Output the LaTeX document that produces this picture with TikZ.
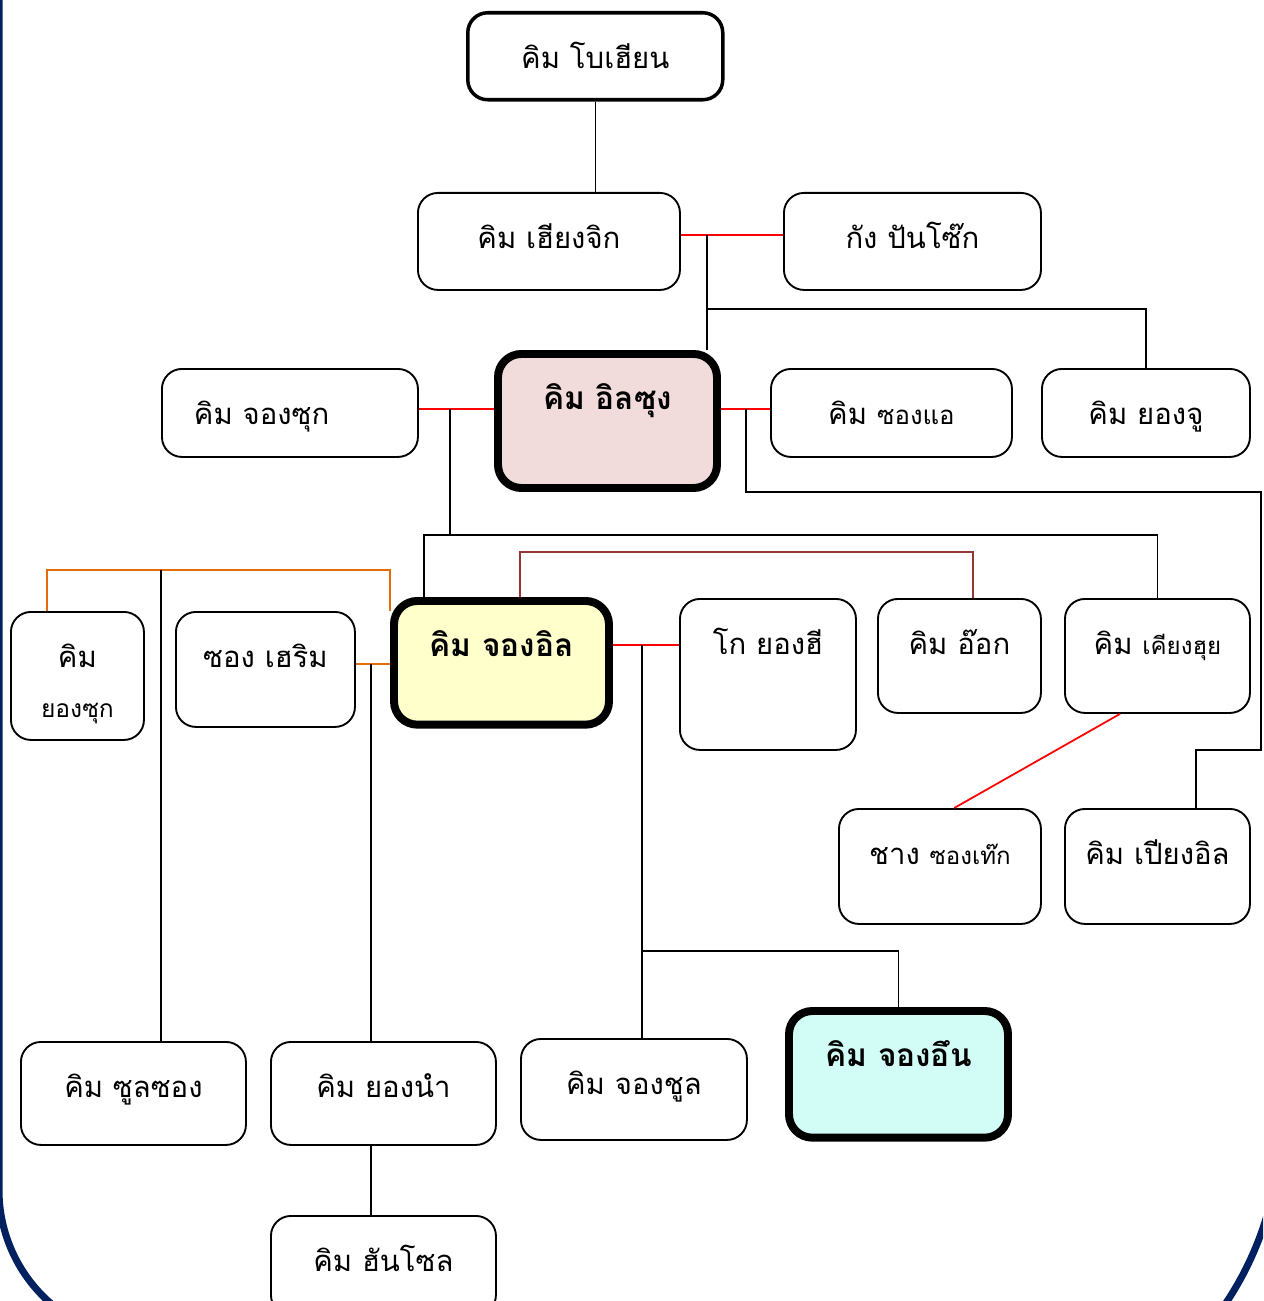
\documentclass[tikz,border=0pt]{standalone}
\usepackage{fontspec}
\newfontfamily\thai[Script=Thai]{Loma}
\usetikzlibrary{calc}

\definecolor{navy}{HTML}{002060}
\definecolor{pinkfill}{HTML}{F2DCDB}
\definecolor{yellowfill}{HTML}{FFFFCC}
\definecolor{cyanfill}{HTML}{D2FCF6}
\definecolor{brownline}{HTML}{953735}
\definecolor{orangeline}{HTML}{E46C0A}

% smaller given name
\newcommand{\sm}[2][20.5]{{\fontsize{#1}{24}\selectfont #2}}

\begin{document}
\begin{tikzpicture}[x=0.03cm, y=-0.03cm,
    person/.style={draw, fill=white, line width=1.6pt, rounded corners=0.6cm, anchor=north west,
        inner ysep=0pt, inner xsep=2pt, text height=1.68cm, align=center,
        font=\thai\fontsize{25}{30}\selectfont},
    main/.style={person, line width=6.8pt, rounded corners=0.7cm,
        font=\thai\bfseries\fontsize{27}{32}\selectfont},
    link/.style={line width=1.3pt},
    redlink/.style={line width=1.5pt, red},
    brownlink/.style={line width=1.5pt, brownline},
    orangelink/.style={line width=1.5pt, orangeline}]

    % === กรอบ ===
    \fill[white] (0,0) rectangle (1263,1301);
    \useasboundingbox (0,0) rectangle (1263,1301);
    \clip (0,0) rectangle (1263,1301);
    \draw[navy, line width=0.21cm] (-1,-10) -- (-1,1190) arc[start angle=180, end angle=125, radius=150];
    \draw[navy, line width=0.21cm] (1280,-10) -- (1280,1125) arc[start angle=0, end angle=42, radius=320];

    % === รุ่นที่ 1-2 ===
    \node[person, line width=3pt, minimum width=7.65cm, text depth=0.93cm] (bohian) at (466,11) {คิม โบเฮียน};
    \node[person, minimum width=7.86cm, text depth=1.23cm] (hiangjik) at (417,192) {คิม เฮียงจิก};
    \node[person, minimum width=7.71cm, text depth=1.23cm] (kang) at (783,192) {กัง ปันโซ๊ก};

    % === รุ่นที่ 3 ===
    \node[person, text width=5.76cm, inner xsep=0.96cm, align=left, text depth=0.96cm] (jongsuk) at (161,368) {คิม จองซุก};
    \node[main, fill=pinkfill, minimum width=6.57cm, text depth=2.34cm] (ilsung) at (494,350) {คิม อิลซุง};
    \node[person, minimum width=7.23cm, text depth=0.96cm] (songae) at (770,368) {คิม \sm[22]{ซองแอ}};
    \node[person, minimum width=6.24cm, text depth=0.96cm] (yongju) at (1041,368) {คิม ยองจู};

    % === รุ่นที่ 4 ===
    \node[person, minimum width=3.99cm, text depth=2.16cm] (yongsuk) at (10,611)
        {\begin{tabular}[t]{@{}c@{}}คิม\\[12pt]\sm[21]{ยองซุก}\end{tabular}};
    \node[person, minimum width=5.37cm, text depth=1.77cm] (songherim) at (175,611) {ซอง เฮริม};
    \node[main, fill=yellowfill, minimum width=6.45cm, text depth=2.03cm] (jongil) at (390,597) {คิม จองอิล};
    \node[person, minimum width=5.28cm, text depth=2.85cm] (kohyonghi) at (679,598) {โก ยองฮี};
    \node[person, minimum width=4.89cm, text depth=1.74cm] (eok) at (877,598) {คิม อ๊อก};
    \node[person, minimum width=5.55cm, text depth=1.74cm] (kiangsui) at (1064,598) {คิม \sm{เคียงฮุย}};
    \node[person, minimum width=6.06cm, text depth=1.77cm] (changsongtaek) at (838,808) {ชาง \sm{ซองเท๊ก}};
    \node[person, minimum width=5.55cm, text depth=1.77cm] (piangil) at (1064,808) {คิม เปียงอิล};

    % === รุ่นที่ 5 ===
    \node[person, minimum width=6.75cm, text depth=1.41cm] (sulsong) at (20,1041) {คิม ซูลซอง};
    \node[person, minimum width=6.75cm, text depth=1.41cm] (yongnam) at (270,1041) {คิม ยองนำ};
    \node[person, minimum width=6.78cm, text depth=1.35cm] (jongsul) at (520,1038) {คิม จองชูล};
    \node[main, fill=cyanfill, minimum width=6.57cm, text depth=2.12cm] (jongeun) at (785,1007) {คิม จองอึน};
    \node[person, minimum width=6.75cm, text depth=1.29cm] (hanson) at (270,1215) {คิม ฮันโซล};

    % จุดหักมุม
    \coordinate (mA) at (707,235);
    \coordinate (mB) at (707,309);
    \coordinate (mC) at (450,409);
    \coordinate (mE) at (424,535);
    \coordinate (mF) at (746,409);
    \coordinate (mG) at (1196,750);
    \coordinate (mR) at (1261,492);
    \coordinate (mH) at (520,552);
    \coordinate (mI) at (973,552);
    \coordinate (mJ) at (47,570);
    \coordinate (mL) at (161,570);
    \coordinate (mM) at (371,664);
    \coordinate (mN) at (642,645);
    \coordinate (mP) at (642,951);

    % === เส้นเชื่อม ===
    \draw[link] (bohian.south) -- (bohian.south |- hiangjik.north);
    \draw[redlink] (hiangjik.east |- mA) -- (kang.west |- mA);
    \draw[link] (mA) -- (mA |- ilsung.north);
    \draw[link] (mB) -| (yongju.north);

    \draw[redlink] (jongsuk.east |- mC) -- (ilsung.west |- mC);
    \draw[link] (mC) -- (mC |- mE);
    \draw[link] (mE |- jongil.north) -- (mE) -| (kiangsui.north);

    \draw[redlink] (ilsung.east |- mF) -- (songae.west |- mF);
    \draw[link] (mF) |- (mR) |- (mG) -- (mG |- piangil.north);

    \draw[brownlink] (mH |- jongil.north) -- (mH) -- (mI) -- (mI |- eok.north);
    \draw[orangelink] (mJ |- yongsuk.north) -- (mJ) -| ($(jongil.north west)+(0,14)$);
    \draw[link] (mL) -- (mL |- sulsong.north);

    \draw[orangelink] (songherim.east |- mM) -- (jongil.west |- mM);
    \draw[link] (mM) -- (mM |- yongnam.north);
    \draw[link] (mM |- yongnam.south) -- (mM |- hanson.north);

    \draw[redlink] (jongil.east |- mN) -- (kohyonghi.west |- mN);
    \draw[link] (mN) -- (mN |- jongsul.north);
    \draw[link] (mP) -| (jongeun.north);

    \draw[redlink] ($(kiangsui.south west)!0.3!(kiangsui.south east)$)
        -- ($(changsongtaek.north west)!0.57!(changsongtaek.north east)$);

\end{tikzpicture}
\end{document}
